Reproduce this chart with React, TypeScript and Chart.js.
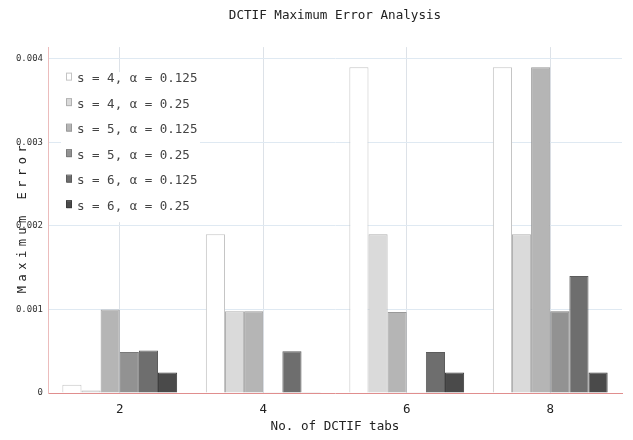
import React, { useEffect, useRef } from "react";
import { Chart, registerables } from "chart.js";

Chart.register(...registerables);

const categories = ["2", "4", "6", "8"];
const seriesLabels = [
  "s = 4, α = 0.125",
  "s = 4, α = 0.25",
  "s = 5, α = 0.125",
  "s = 5, α = 0.25",
  "s = 6, α = 0.125",
  "s = 6, α = 0.25",
];
const s4a0125 = [0.0001, 0.0019, 0.0039, 0.0039];
const s4a025 = [0.00003, 0.00098, 0.0019, 0.0019];
const s5a0125 = [0.001, 0.00098, 0.00097, 0.0039];
const s5a025 = [0.00049, 0.00001, 0.00001, 0.00098];
const s6a0125 = [0.00051, 0.0005, 0.00049, 0.0014];
const s6a025 = [0.000245, 0.00001, 0.000245, 0.000245];
const seriesValues = [s4a0125, s4a025, s5a0125, s5a025, s6a0125, s6a025];
const yTicks = [0, 0.001, 0.002, 0.003, 0.004];
const yTickLabels = ["0", "0.001", "0.002", "0.003", "0.004"];

const fills = ["#ffffff", "#dadada", "#b5b5b5", "#929292", "#6e6e6e", "#4a4a4a"];
const borders = ["#c4c4c4", "#b0b0b0", "#999999", "#7a7a7a", "#5c5c5c", "#3c3c3c"];

const MONO = '"DejaVu Sans Mono", monospace';

const legendPlugin = {
  id: "boxLegend",
  afterDatasetsDraw(chart: any) {
    const { ctx, chartArea } = chart;
    const x0 = chartArea.left + 13;
    const y0 = chartArea.top + 25;
    ctx.save();
    ctx.fillStyle = "#ffffff";
    ctx.fillRect(x0, y0, 139, 150);
    ctx.font = "12.5px " + MONO;
    ctx.textBaseline = "middle";
    ctx.textAlign = "left";
    chart.data.datasets.forEach((ds: any, i: number) => {
      const cy = y0 + 7 + i * 25.5;
      ctx.fillStyle = ds.backgroundColor;
      ctx.strokeStyle = ds.borderColor;
      ctx.lineWidth = 1;
      ctx.fillRect(x0 + 6, cy - 5.5, 5, 7);
      ctx.strokeRect(x0 + 5.5, cy - 6, 5, 7);
      ctx.fillStyle = "#444444";
      ctx.fillText(ds.label, x0 + 16, cy);
    });
    ctx.restore();
  },
};

const spacingPlugin = {
  id: "yTitleSpacing",
  beforeDraw(chart: any) {
    const sc = chart.scales.y;
    if (sc && !sc.__patched) {
      const orig = sc.drawTitle.bind(sc);
      sc.drawTitle = () => {
        const c = chart.ctx;
        c.save();
        c.letterSpacing = "4.5px";
        c.translate(0, -3);
        orig();
        c.restore();
      };
      sc.__patched = true;
    }
  },
};

export default function App() {
  const ref = useRef<HTMLCanvasElement | null>(null);
  useEffect(() => {
    document.body.style.margin = "0";
    const canvas = ref.current;
    if (!canvas) return;
    const chart = new Chart(canvas, {
      type: "bar",
      data: {
        labels: categories,
        datasets: seriesValues.map((vals, i) => ({
          label: seriesLabels[i],
          data: vals,
          backgroundColor: fills[i],
          borderColor: borders[i],
          borderWidth: 1,
          categoryPercentage: 0.8,
          barPercentage: 1,
        })),
      },
      options: {
        animation: false,
        responsive: true,
        maintainAspectRatio: false,
        layout: { padding: { left: 0, right: 11, top: 0, bottom: 0 } },
        plugins: {
          legend: { display: false },
          tooltip: { enabled: false },
          title: {
            display: true,
            text: "DCTIF Maximum Error Analysis",
            fullSize: false,
            color: "#222222",
            font: { family: MONO, size: 12.6, weight: "normal" },
            padding: { top: 8, bottom: 24 },
          },
        },
        scales: {
          x: {
            grid: { display: true, offset: false, drawTicks: false, color: "#dde2e8" },
            border: { display: true, color: "#e08e8e" },
            ticks: { color: "#222222", font: { family: MONO, size: 12.5 }, padding: 9 },
            title: {
              display: true,
              text: "No. of DCTIF tabs",
              color: "#222222",
              font: { family: MONO, size: 12.6 },
              padding: { top: 0, bottom: 6 },
            },
            afterFit: (s: any) => {
              s.height = 47;
            },
          },
          y: {
            min: 0,
            max: 0.00414,
            grid: {
              drawTicks: false,
              color: (c: any) => (c.tick && c.tick.value === 0 ? "rgba(0,0,0,0)" : "#dfe9f2"),
            },
            border: { display: true, color: "#ecbcbc" },
            afterBuildTicks: (s: any) => {
              s.ticks = yTicks.map((v) => ({ value: v }));
            },
            ticks: {
              color: "#333333",
              font: { family: MONO, size: 9 },
              padding: 5,
              callback: (v: any) => {
                const idx = yTicks.indexOf(Number(v));
                return idx >= 0 ? yTickLabels[idx] : "";
              },
            },
            title: {
              display: true,
              text: "Maximum Error",
              color: "#222222",
              font: { family: MONO, size: 12, lineHeight: 1.2 },
              padding: { top: 15.3, bottom: 0 },
            },
            afterFit: (s: any) => {
              s.width = 48;
            },
          },
        },
      },
      plugins: [legendPlugin, spacingPlugin],
    } as any);
    return () => chart.destroy();
  }, []);
  return (
    <div style={{ width: 633, height: 440, position: "relative" }}>
      <canvas ref={ref} />
    </div>
  );
}
